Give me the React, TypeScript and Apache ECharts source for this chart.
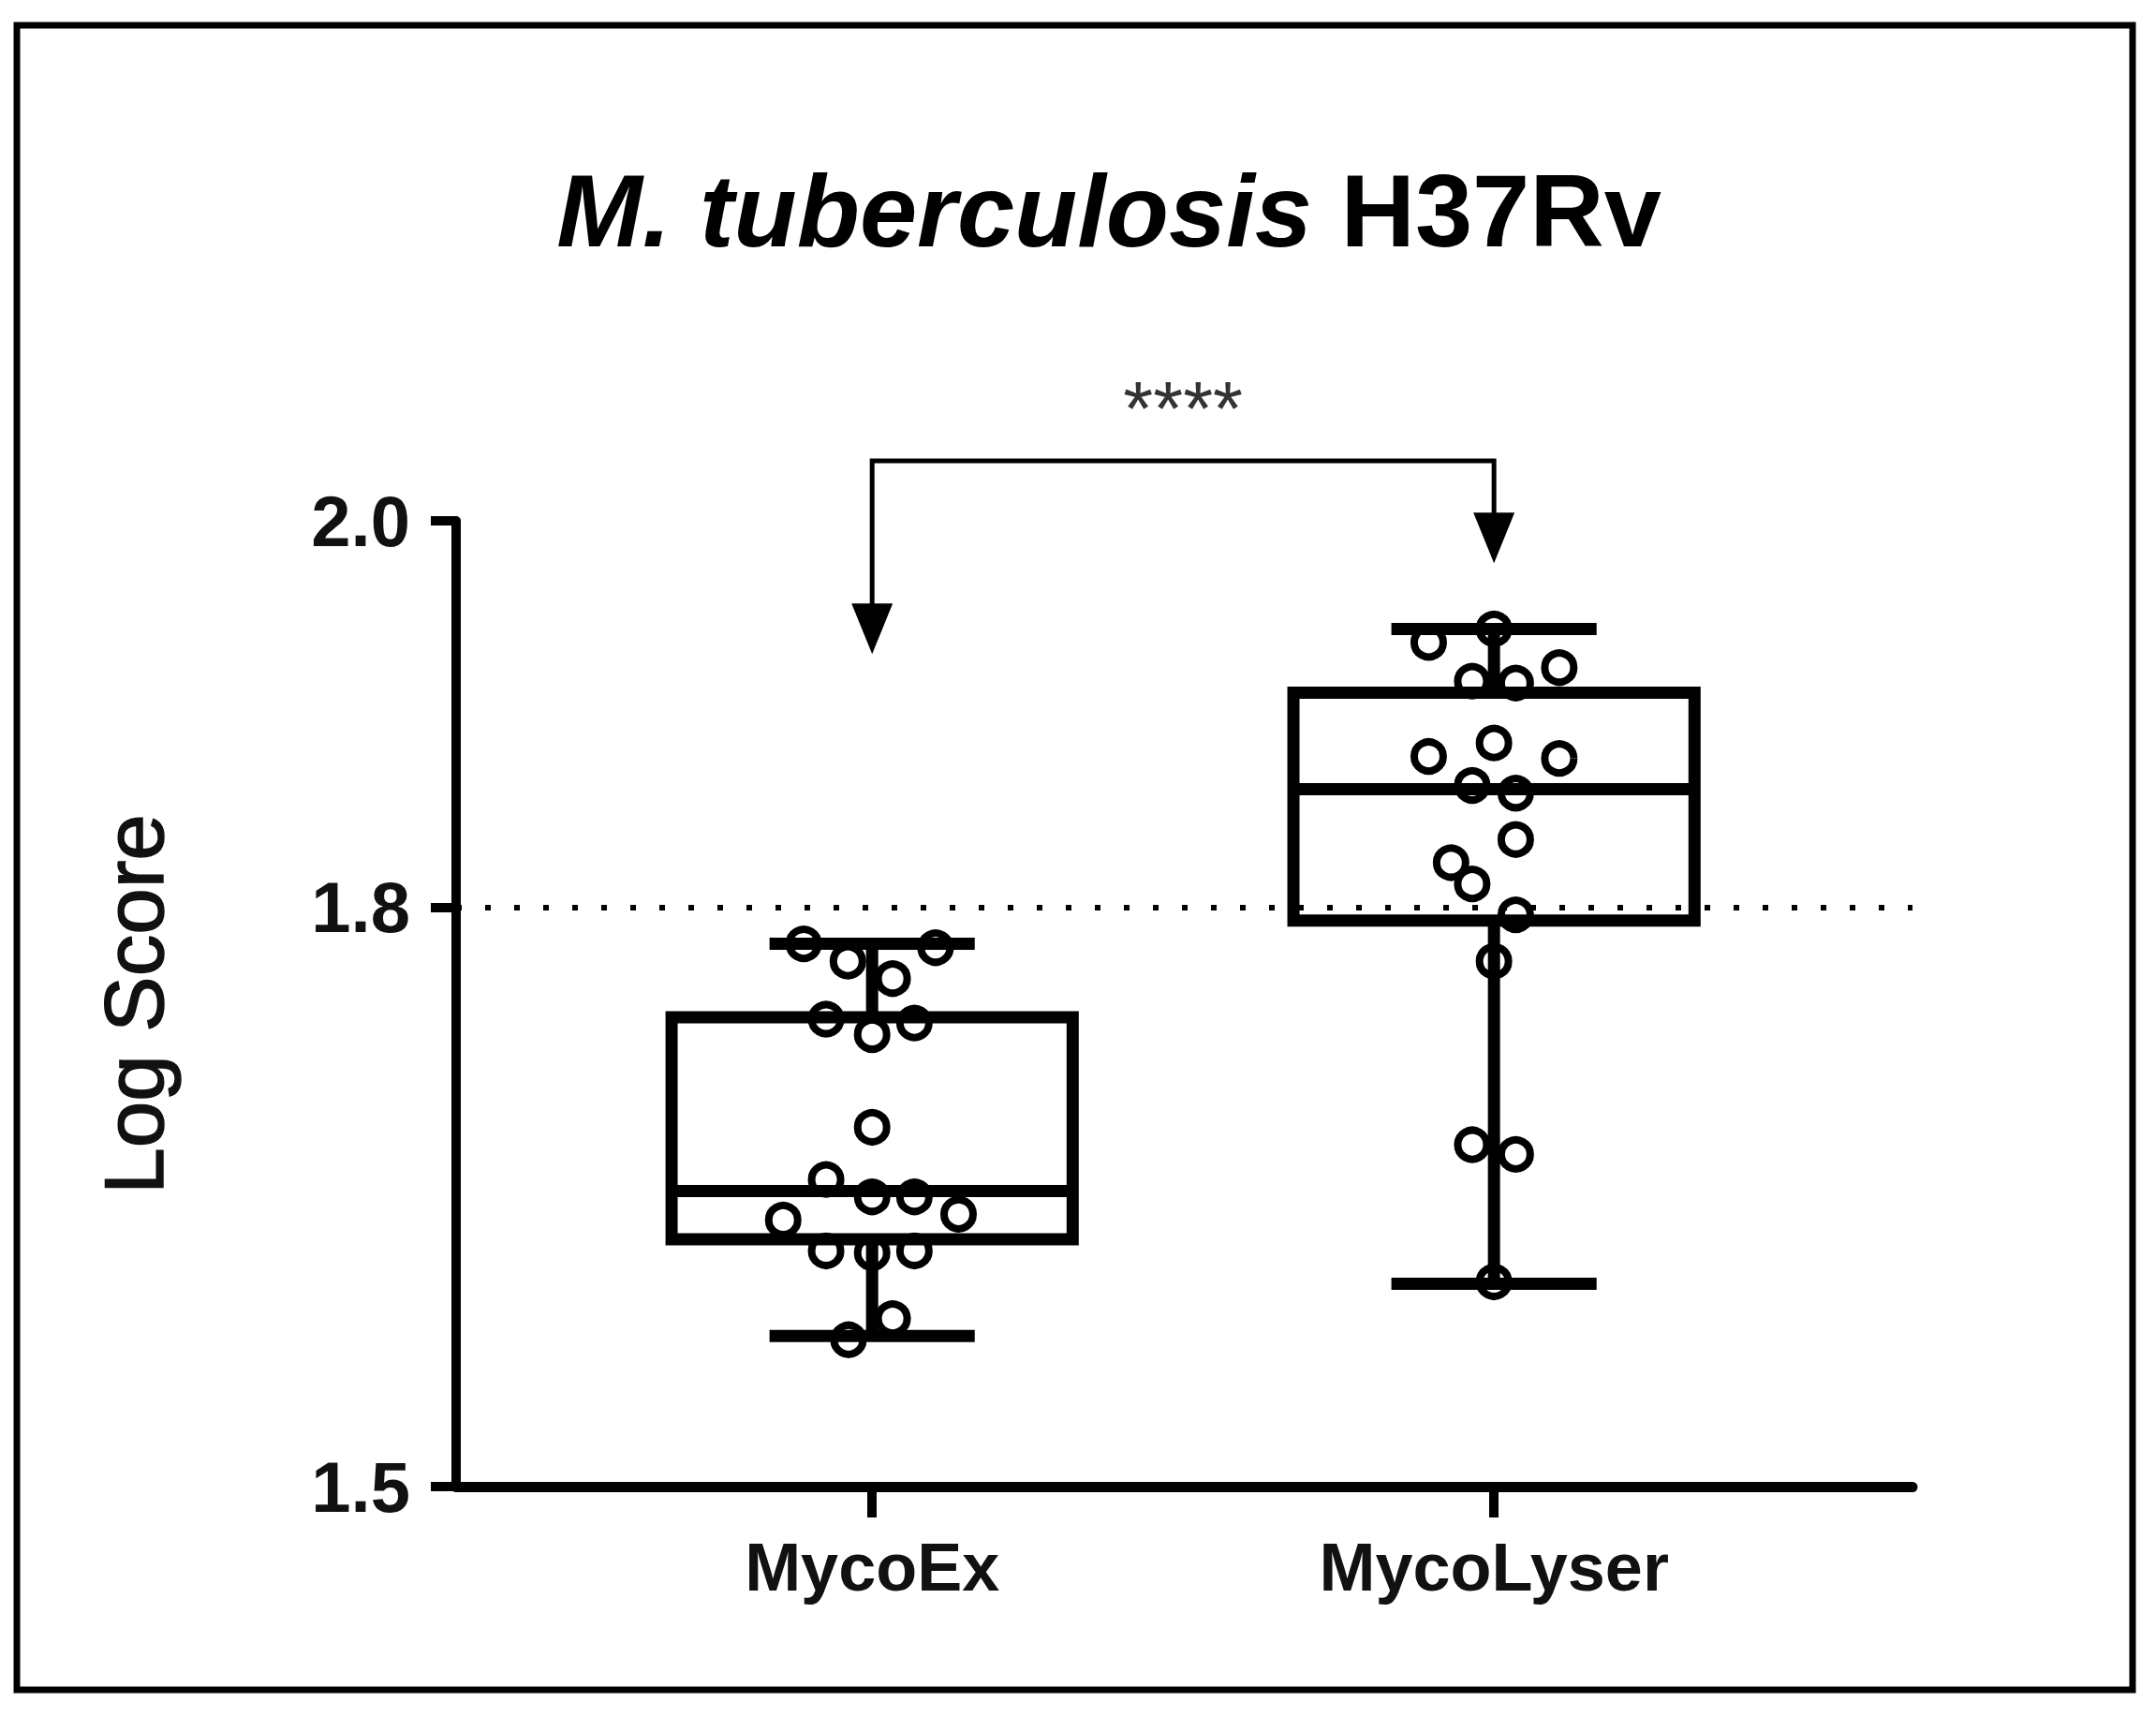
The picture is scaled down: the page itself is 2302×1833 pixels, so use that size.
import React, { useEffect, useRef } from 'react';
import * as echarts from 'echarts';

// ---------- data ----------
const categories = ['MycoEx', 'MycoLyser'];
const yTicks = [1.5, 1.8, 2.0];

// box statistics (whisker min, Q1, median, Q3, whisker max)
const boxMin = [1.578, 1.605];
const boxQ1 = [1.628, 1.793];
const boxMedian = [1.653, 1.861];
const boxQ3 = [1.743, 1.911];
const boxMax = [1.781, 1.944];

// individual points
const mycoExValues = [1.781, 1.779, 1.772, 1.763, 1.742, 1.734, 1.740, 1.686, 1.659, 1.650, 1.650, 1.638, 1.641, 1.622, 1.621, 1.622, 1.587, 1.576];
const mycoExJitter = [-0.110, 0.102, -0.039, 0.033, -0.074, 0, 0.068, 0, -0.074, 0, 0.068, -0.143, 0.139, -0.074, 0, 0.068, 0.033, -0.038];
const mycoLyserValues = [1.944, 1.937, 1.924, 1.917, 1.916, 1.885, 1.878, 1.877, 1.863, 1.859, 1.835, 1.823, 1.812, 1.796, 1.772, 1.677, 1.672, 1.606];
const mycoLyserJitter = [0, -0.105, 0.105, -0.035, 0.035, 0, -0.105, 0.105, -0.035, 0.035, 0.035, -0.069, -0.035, 0.035, 0, -0.035, 0.035, 0];

const thresholdValue = 1.8;
const bracketLevel = 2.031;
const arrowTips = [1.931, 1.978];
const significance = '****';

const titleItalic = 'M. tuberculosis';
const titlePlain = 'H37Rv';
const yAxisTitle = 'Log Score';

// ---------- style ----------
const FONT = '"Liberation Sans", Arial, Helvetica, sans-serif';
const BOX_WIDTH = 0.645; // in x-axis units
const CAP_WIDTH = 0.33;
const LINE_W = 13;

export default function App() {
  const ref = useRef<HTMLDivElement>(null);

  useEffect(() => {
    if (!ref.current) return;
    const chart = echarts.init(ref.current, undefined, { renderer: 'svg' });

    const boxData = categories.map((_, i) => [i, boxMin[i], boxQ1[i], boxMedian[i], boxQ3[i], boxMax[i]]);
    const exPoints = mycoExValues.map((v, i) => [0 + mycoExJitter[i], v]);
    const lyPoints = mycoLyserValues.map((v, i) => [1 + mycoLyserJitter[i], v]);

    const pointStyle = { color: 'rgba(0,0,0,0)', borderColor: '#000', borderWidth: 8, opacity: 1 };

    const option: any = {
      animation: false,
      backgroundColor: '#fff',
      grid: { left: 487, right: 260, top: 556, bottom: 246, containLabel: false, outerBoundsMode: 'none' },
      xAxis: {
        type: 'value',
        min: -0.669,
        max: 1.673,
        splitLine: { show: false },
        axisLine: { show: true, onZero: false, lineStyle: { color: '#000', width: 11 } },
        axisTick: { show: true, customValues: [0, 1], length: 33, lineStyle: { color: '#000', width: 10 } },
        axisLabel: {
          customValues: [0, 1],
          formatter: (v: number) => categories[Math.round(v)] ?? '',
          margin: 50,
          fontSize: 72,
          lineHeight: 72,
          fontWeight: 'bold',
          fontFamily: FONT,
          color: '#111',
        },
      },
      yAxis: {
        type: 'value',
        min: 1.5,
        max: 2.0,
        splitLine: { show: false },
        axisLine: { show: true, onZero: false, lineStyle: { color: '#000', width: 10 } },
        axisTick: { show: true, customValues: yTicks, length: 27, lineStyle: { color: '#000', width: 10 } },
        axisLabel: {
          customValues: yTicks,
          formatter: (v: number) => v.toFixed(1),
          margin: 49,
          fontSize: 76,
          fontWeight: 'bold',
          fontFamily: FONT,
          color: '#111',
        },
      },
      graphic: [
        {
          type: 'rect',
          shape: { x: 18, y: 27, width: 2259, height: 1777 },
          style: { fill: 'none', stroke: '#000', lineWidth: 7 },
          z: 0,
        },
        {
          type: 'text',
          x: 1184,
          y: 224,
          style: {
            text: `{i|${titleItalic}} {n|${titlePlain}}`,
            fontSize: 110,
            fontWeight: 'bold',
            fontFamily: FONT,
            fill: '#000',
            align: 'center',
            verticalAlign: 'middle',
            rich: {
              i: { fontStyle: 'italic', fontWeight: 'bold', fontSize: 110, fontFamily: FONT, fill: '#000' },
              n: { fontWeight: 'bold', fontSize: 110, fontFamily: FONT, fill: '#000' },
            },
          },
        },
        {
          type: 'text',
          x: 143,
          y: 1072,
          rotation: Math.PI / 2,
          style: {
            text: yAxisTitle,
            fontSize: 89,
            fontFamily: FONT,
            fill: '#111',
            stroke: '#111',
            lineWidth: 1.5,
            align: 'center',
            verticalAlign: 'middle',
          },
        },
      ],
      series: [
        {
          type: 'custom',
          name: 'box',
          data: boxData,
          encode: { x: 0, y: [1, 2, 3, 4, 5] },
          z: 2,
          renderItem: (params: any, api: any) => {
            const x = api.value(0);
            const cx = api.coord([x, api.value(3)])[0];
            const yMin = api.coord([x, api.value(1)])[1];
            const yQ1 = api.coord([x, api.value(2)])[1];
            const yMed = api.coord([x, api.value(3)])[1];
            const yQ3 = api.coord([x, api.value(4)])[1];
            const yMax = api.coord([x, api.value(5)])[1];
            const half = api.size([BOX_WIDTH, 0])[0] / 2;
            const capHalf = api.size([CAP_WIDTH, 0])[0] / 2;
            const st = { stroke: '#000', lineWidth: LINE_W, fill: 'none' };
            return {
              type: 'group',
              children: [
                { type: 'line', shape: { x1: cx, y1: yQ3, x2: cx, y2: yMax }, style: st },
                { type: 'line', shape: { x1: cx, y1: yQ1, x2: cx, y2: yMin }, style: st },
                { type: 'line', shape: { x1: cx - capHalf, y1: yMax, x2: cx + capHalf, y2: yMax }, style: st },
                { type: 'line', shape: { x1: cx - capHalf, y1: yMin, x2: cx + capHalf, y2: yMin }, style: st },
                { type: 'rect', shape: { x: cx - half, y: yQ3, width: half * 2, height: yQ1 - yQ3 }, style: st },
                { type: 'line', shape: { x1: cx - half, y1: yMed, x2: cx + half, y2: yMed }, style: st },
              ],
            };
          },
        },
        {
          type: 'scatter',
          name: categories[0],
          data: exPoints,
          symbol: 'circle',
          symbolSize: 31,
          z: 3,
          itemStyle: pointStyle,
          markLine: {
            silent: true,
            symbol: 'none',
            label: { show: false },
            lineStyle: { type: [6, 25], color: '#000', width: 6, opacity: 1 },
            data: [{ yAxis: thresholdValue }],
          },
        },
        {
          type: 'scatter',
          name: categories[1],
          data: lyPoints,
          symbol: 'circle',
          symbolSize: 31,
          z: 3,
          itemStyle: pointStyle,
        },
        {
          type: 'custom',
          name: 'bracket',
          data: [[0, 1, bracketLevel, arrowTips[0], arrowTips[1]]],
          encode: { x: [0, 1], y: [2, 3, 4] },
          clip: false,
          z: 4,
          renderItem: (params: any, api: any) => {
            const xl = api.coord([api.value(0), api.value(2)])[0];
            const xr = api.coord([api.value(1), api.value(2)])[0];
            const yb = api.coord([api.value(0), api.value(2)])[1];
            const ytl = api.coord([api.value(0), api.value(3)])[1];
            const ytr = api.coord([api.value(1), api.value(4)])[1];
            const aw = 22;
            const ah = 54;
            return {
              type: 'group',
              children: [
                {
                  type: 'polyline',
                  shape: { points: [[xl, ytl - ah + 2], [xl, yb], [xr, yb], [xr, ytr - ah + 2]] },
                  style: { stroke: '#000', lineWidth: 5, fill: 'none' },
                },
                {
                  type: 'polygon',
                  shape: { points: [[xl - aw, ytl - ah], [xl + aw, ytl - ah], [xl, ytl]] },
                  style: { fill: '#000' },
                },
                {
                  type: 'polygon',
                  shape: { points: [[xr - aw, ytr - ah], [xr + aw, ytr - ah], [xr, ytr]] },
                  style: { fill: '#000' },
                },
                {
                  type: 'text',
                  x: (xl + xr) / 2,
                  y: yb - 57,
                  style: {
                    text: significance,
                    fontSize: 82,
                    fontFamily: FONT,
                    fill: '#333',
                    align: 'center',
                    verticalAlign: 'middle',
                  },
                },
              ],
            };
          },
        },
      ],
    };

    chart.setOption(option);
    return () => chart.dispose();
  }, []);

  return (
    <div
      ref={ref}
      style={{ position: 'absolute', left: 0, top: 0, width: 2302, height: 1833, background: '#fff' }}
    />
  );
}
